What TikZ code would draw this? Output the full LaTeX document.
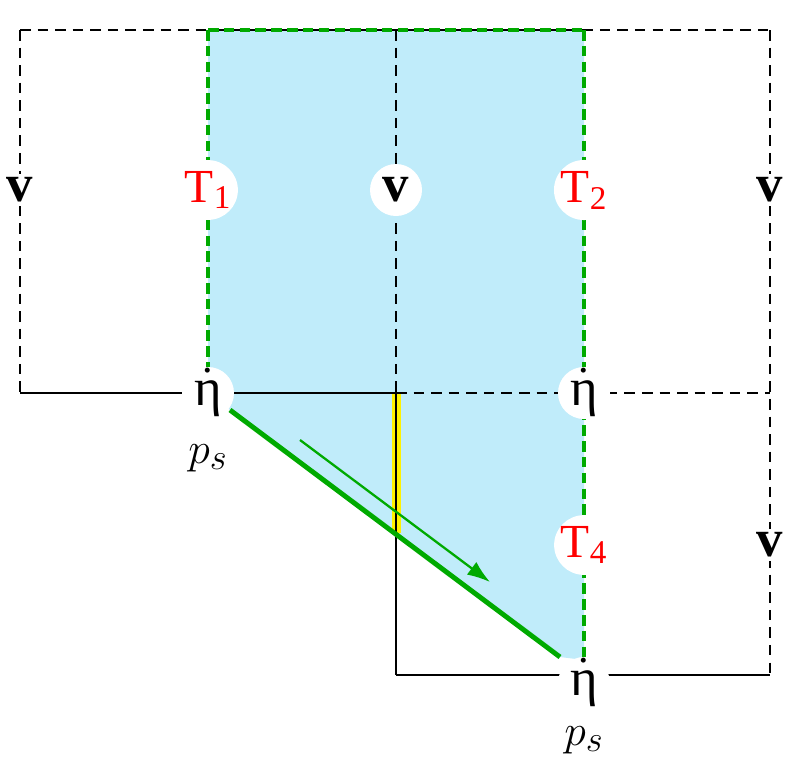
\documentclass[tikz,border=0pt]{standalone}
\usepackage{fontspec}
\setmainfont{Liberation Serif}
\usetikzlibrary{arrows.meta}
\definecolor{skyfill}{RGB}{192,236,250}
\definecolor{grn}{RGB}{0,170,0}
\newcommand{\etadot}{\ooalign{η\cr\hidewidth\raisebox{0.62em}{\fontsize{24}{24}\selectfont.}\hidewidth\cr}}
\begin{document}
\begin{tikzpicture}[x=0.02cm,y=-0.02cm,
  lab/.style={circle,fill=white,inner sep=0pt,minimum size=52*0.02cm,font=\fontsize{30}{34}\selectfont},
  red/.style={lab,text=red,font=\fontsize{27}{30}\selectfont},
  dsh/.style={black,line width=0.6pt,dash pattern=on 6pt off 4pt},
  sol/.style={black,line width=1.3pt},
  gd/.style={grn,line width=2.6pt,dash pattern=on 6pt off 3pt},
  plain/.style={inner sep=0pt,font=\fontsize{30}{34}\selectfont}]
\useasboundingbox (0,0) rectangle (800,775);
\fill[skyfill] (208,30) -- (584,30) -- (584,660) -- (560,657) -- (222,404) -- (208,393) -- cycle;
\fill[yellow] (392,393) rectangle (401,533);
\coordinate (tl) at (20,30); \coordinate (tr) at (770,30);
\coordinate (ml) at (20,393); \coordinate (mc) at (396,393); \coordinate (mr) at (770,393);
\coordinate (tc) at (396,30); \coordinate (bl) at (396,675); \coordinate (br) at (770,675);
\coordinate (t1top) at (208,30); \coordinate (t2top) at (584,30);
\draw[dsh] (tl) -- (tr);
\draw[dsh] (tl) -- (ml);
\draw[dsh] (tc) -- (mc);
\draw[dsh] (tr) -- (br);
\draw[dsh] (mc) -- (mr);
\draw[sol] (ml) -- (mc);
\draw[sol] (mc) -- (bl);
\draw[sol] (bl) -- (br);
\draw[black,line width=1pt] (t1top) -- (t2top);
\draw[gd] (t1top) -- (t2top);
\draw[gd] (t1top) -- (208,393);
\draw[gd] (t2top) -- (584,675);
\node[plain,fill=white,inner sep=2pt] (v1) at (20,190) {\textbf{v}};
\node[lab] (v2) at (396,190) {\textbf{v}};
\node[plain,fill=white,inner sep=2pt] (v3) at (770,190) {\textbf{v}};
\node[plain,fill=white,inner sep=2pt] (v4) at (770,545) {\textbf{v}};
\node[red] (T1) at (208,190) {T\textsubscript{1}};
\node[red] (T2) at (584,190) {T\textsubscript{2}};
\node[red] (T4) at (584,545) {T\textsubscript{4}};
\node[lab] (e1) at (208,393) {\etadot};
\node[lab] (e2) at (584,393) {\etadot};
\node[lab] (e3) at (584,683) {\etadot};
\node[plain] (p1) at (208,458) {$p_s$};
\node[plain] (p2) at (584,740) {$p_s$};
\draw[grn,line width=2.8pt] (230,410) -- (560,657);
\coordinate (a1) at (300,440); \coordinate (a2) at (490,582);
\draw[grn,line width=1.3pt,-{Latex[length=13pt,width=9pt]}] (a1) -- (a2);
\end{tikzpicture}
\end{document}
